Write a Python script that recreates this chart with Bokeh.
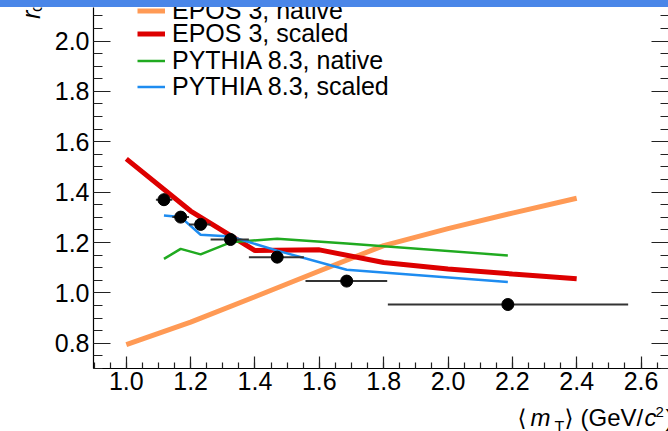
import numpy as np
from bokeh.plotting import figure
from bokeh.models import (Range1d, SingleIntervalTicker, NumeralTickFormatter, LinearAxis,
                          Legend, LegendItem, Div)
from bokeh.layouts import column, row
from bokeh.core.properties import value
from bokeh.embed import file_html
from bokeh.resources import INLINE

# ---------------- data ----------------
epos_mt = [1.0, 1.2, 1.4, 1.6, 1.8, 2.0, 2.2, 2.4]
epos_native = [0.795, 0.884, 0.985, 1.087, 1.188, 1.255, 1.317, 1.376]
epos_scaled = [1.532, 1.325, 1.168, 1.171, 1.121, 1.095, 1.075, 1.056]

pythia_mt = [1.117, 1.169, 1.231, 1.324, 1.469, 1.685, 2.186]
pythia_native = [1.135, 1.175, 1.153, 1.201, 1.215, 1.196, 1.149]
pythia_scaled = [1.307, 1.301, 1.231, 1.224, 1.168, 1.092, 1.043]

data_mt = [1.117, 1.169, 1.231, 1.324, 1.469, 1.685, 2.186]
data_r = [1.370, 1.301, 1.272, 1.212, 1.142, 1.047, 0.954]
data_mt_lo = [1.092, 1.143, 1.195, 1.262, 1.381, 1.557, 1.813]
data_mt_hi = [1.143, 1.195, 1.262, 1.381, 1.552, 1.811, 2.560]
data_r_err = [0.024, 0.02, 0.02, 0.02, 0.02, 0.02, 0.02]

legend_labels = ["EPOS 3, native", "EPOS 3, scaled", "PYTHIA 8.3, native", "PYTHIA 8.3, scaled"]

FONT = "Liberation Sans"
FS = "25px"

BAR_H = 7
LEFT_W = 45
MAIN_W = 668 - LEFT_W
MAIN_H = 392
BOTTOM_H = 431 - BAR_H - MAIN_H

p = figure(width=MAIN_W, height=MAIN_H, output_backend="svg", toolbar_location=None, title=None,
           x_range=Range1d(0.898, 2.6854), y_range=Range1d(0.7, 2.133),
           min_border_left=48, min_border_right=0, min_border_top=0, min_border_bottom=31,
           margin=0)
p.xgrid.visible = False
p.ygrid.visible = False
p.outline_line_color = None
p.background_fill_color = "white"
p.border_fill_color = "white"

xa = p.xaxis[0]
xa.ticker = SingleIntervalTicker(interval=0.2, num_minor_ticks=4)
xa.formatter = NumeralTickFormatter(format="0.0")
xa.major_tick_in = 12
xa.major_tick_out = 0
xa.minor_tick_in = 6
xa.minor_tick_out = 0
xa.major_label_standoff = 3

ya = p.yaxis[0]
ya.ticker = SingleIntervalTicker(interval=0.2, num_minor_ticks=4)
ya.formatter = NumeralTickFormatter(format="0.0")
ya.major_tick_in = 17
ya.major_tick_out = 0
ya.minor_tick_in = 9
ya.minor_tick_out = 0
ya.major_label_standoff = 4

for ax in (xa, ya):
    ax.axis_line_color = "black"
    ax.axis_line_width = 1.2
    ax.major_tick_line_color = "#222222"
    ax.minor_tick_line_color = "#222222"
    ax.major_tick_line_width = 1.2
    ax.minor_tick_line_width = 1.2
    ax.major_label_text_font = FONT
    ax.major_label_text_font_size = FS
    ax.major_label_text_color = "black"

ry = LinearAxis(ticker=SingleIntervalTicker(interval=0.2, num_minor_ticks=4),
                major_label_text_font_size="0px", major_label_standoff=0,
                axis_line_color=None, major_tick_in=17, major_tick_out=0,
                minor_tick_in=8, minor_tick_out=0,
                major_tick_line_color="#222222", minor_tick_line_color="#222222",
                major_tick_line_width=1.2, minor_tick_line_width=1.2)
p.add_layout(ry, "right")

# model curves
r_on = p.line(epos_mt, epos_native, line_color="#ff9a55", line_width=5)
r_os = p.line(epos_mt, epos_scaled, line_color="#dd0000", line_width=5)
r_pn = p.line(pythia_mt, pythia_native, line_color="#20aa20", line_width=2.5)
r_ps = p.line(pythia_mt, pythia_scaled, line_color="#1e8cf0", line_width=2.5)

# data points with error bars
p.segment(x0=data_mt_lo, x1=data_mt_hi, y0=data_r, y1=data_r, line_color="#333333", line_width=2)
r_lo = [r - e for r, e in zip(data_r, data_r_err)]
r_hi = [r + e for r, e in zip(data_r, data_r_err)]
p.segment(x0=data_mt, x1=data_mt, y0=r_lo, y1=r_hi, line_color="#333333", line_width=2)
p.scatter(data_mt, data_r, size=12, color="black")

# legend: one Legend per entry so the row pitch matches the reference
legend_y = [343, 320, 293, 267]
for lbl, rend, ly in zip(legend_labels, [r_on, r_os, r_pn, r_ps], legend_y):
    lg = Legend(items=[LegendItem(label=lbl, renderers=[rend])],
                location=(44, ly), padding=0, margin=0, spacing=0,
                glyph_width=28, glyph_height=29, label_height=29, label_standoff=7,
                label_text_font=FONT, label_text_font_size=FS, label_text_color="black",
                border_line_color=None, background_fill_alpha=0)
    p.add_layout(lg)

# ---- left strip: y-axis title (cut off at the top, as in the reference) ----
pl = figure(width=LEFT_W, height=MAIN_H, output_backend="svg", toolbar_location=None, title=None,
            x_range=Range1d(0, LEFT_W), y_range=Range1d(0, MAIN_H),
            x_axis_type=None, y_axis_type=None, min_border=0, margin=0)
pl.outline_line_color = None
pl.text(x=[30], y=[MAIN_H - 12.5], text=["r"], angle=np.pi / 2, text_font=value(FONT),
        text_font_size=value("25px"), text_font_style="italic", text_align="left",
        text_baseline="alphabetic", text_color="black")
pl.text(x=[35.5], y=[MAIN_H - 5], text=["core (fm)"], angle=np.pi / 2, text_font=value(FONT),
        text_font_size=value("17px"), text_align="left",
        text_baseline="alphabetic", text_color="black")

# ---- bottom strip: x-axis title ----
pb = figure(width=668, height=BOTTOM_H, output_backend="svg", toolbar_location=None, title=None,
            x_range=Range1d(0, 668), y_range=Range1d(0, BOTTOM_H),
            x_axis_type=None, y_axis_type=None, min_border=0, margin=0)
pb.outline_line_color = None
base = 14
def t(x, y, s, size="24px", font=FONT, style="normal"):
    pb.text(x=[x], y=[y], text=[s], text_font=value(font), text_font_size=value(size),
            text_font_style=style, text_align="left", text_baseline="alphabetic",
            text_color="black")
t(517, base, "\u27e8", font="DejaVu Sans", size="23px")
t(530, base, "m", style="italic")
t(554, base - 10, "T", size="16px")
t(564, base, "\u27e9", font="DejaVu Sans", size="23px")
t(580, base, "(GeV/")
t(644, base, "c", style="italic")
t(655, base + 5.5, "2", size="15px")
t(665, base, ")")

bar = Div(text="", width=668, height=BAR_H, margin=0,
          styles={"background-color": "#4a86e8", "width": "668px", "height": "7px"})
layout = column(bar, row(pl, p, spacing=0, margin=0), pb, spacing=0, margin=0)

open("out.html", "w").write(file_html(layout, INLINE))
